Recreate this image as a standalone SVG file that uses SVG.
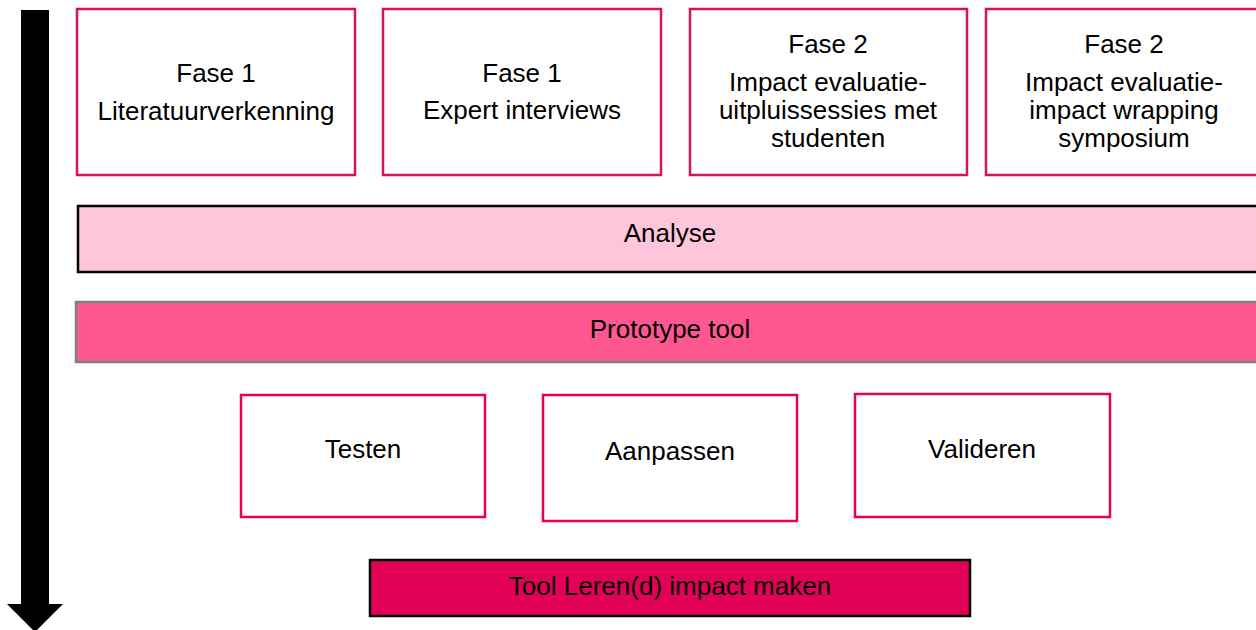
<svg xmlns="http://www.w3.org/2000/svg" width="1256" height="630" viewBox="0 0 1256 630">
<style>
text{font-family:"Liberation Sans",Arial,sans-serif;font-size:26px;fill:#000;text-anchor:middle}
.top{fill:#fff;stroke:#D81450;stroke-width:2.5}
.bot{fill:#fff;stroke:#E8005A;stroke-width:2.5}
</style>
<rect width="1256" height="630" fill="#fff"/>
<g id="connectors">
<path d="M21,10 H49 V604 H63 L35,632 L7,604 H21 Z" fill="#000"/>
</g>
<g id="fase1-lit">
<rect class="top" x="77" y="9" width="278" height="166"/>
<text x="216" y="82">Fase 1</text>
<text x="216" y="120">Literatuurverkenning</text>
</g>
<g id="fase1-expert">
<rect class="top" x="383" y="9" width="278" height="166"/>
<text x="522" y="82">Fase 1</text>
<text x="522" y="119">Expert interviews</text>
</g>
<g id="fase2-uitpluis">
<rect class="top" x="690" y="9" width="277" height="166"/>
<text x="828" y="53">Fase 2</text>
<text x="828" y="91">Impact evaluatie-</text>
<text x="828" y="119">uitpluissessies met</text>
<text x="828" y="147">studenten</text>
</g>
<g id="fase2-symposium">
<rect class="top" x="986" y="9" width="277" height="166"/>
<text x="1124" y="53">Fase 2</text>
<text x="1124" y="91">Impact evaluatie-</text>
<text x="1124" y="119">impact wrapping</text>
<text x="1124" y="147">symposium</text>
</g>
<g id="analyse">
<rect x="78" y="206" width="1184" height="66" fill="#FFC5DA" stroke="#000" stroke-width="2.5"/>
<text x="670" y="242">Analyse</text>
</g>
<g id="prototype">
<rect x="76" y="302" width="1188" height="60" fill="#FF5792" stroke="#808080" stroke-width="2.5"/>
<text x="670" y="338">Prototype tool</text>
</g>
<g id="testen">
<rect class="bot" x="241" y="395" width="244" height="122"/>
<text x="363" y="458">Testen</text>
</g>
<g id="aanpassen">
<rect class="bot" x="543" y="395" width="254" height="126"/>
<text x="670" y="460">Aanpassen</text>
</g>
<g id="valideren">
<rect class="bot" x="855" y="394" width="255" height="123"/>
<text x="982" y="458">Valideren</text>
</g>
<g id="tool">
<rect x="370" y="560" width="600" height="56" fill="#E30057" stroke="#000" stroke-width="2.5"/>
<text x="670" y="595">Tool Leren(d) impact maken</text>
</g>
</svg>
